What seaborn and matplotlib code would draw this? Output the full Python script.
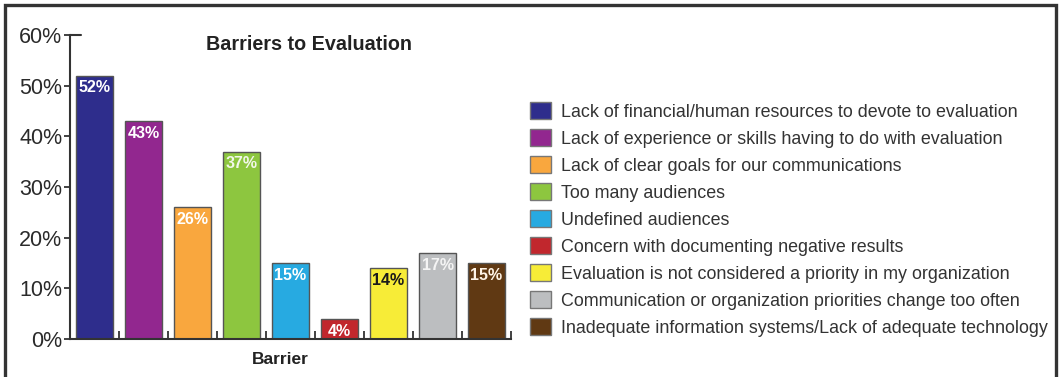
import matplotlib
matplotlib.use("Agg")
import matplotlib.pyplot as plt
from matplotlib.patches import Patch, Rectangle
from matplotlib import font_manager
import matplotlib.transforms as mtransforms
import seaborn as sns
import pandas as pd

categories = [
    "Lack of financial/human resources to devote to evaluation",
    "Lack of experience or skills having to do with evaluation",
    "Lack of clear goals for our communications",
    "Too many audiences",
    "Undefined audiences",
    "Concern with documenting negative results",
    "Evaluation is not considered a priority in my organization",
    "Communication or organization priorities change too often",
    "Inadequate information systems/Lack of adequate technology",
]
values = [52, 43, 26, 37, 15, 4, 14, 17, 15]
value_labels = ["52%", "43%", "26%", "37%", "15%", "4%", "14%", "17%", "15%"]
colors = ["#2E2D8C", "#92278F", "#F9A73E", "#8DC63F", "#27AAE1",
          "#C1272D", "#F7EC37", "#BCBEC0", "#603913"]
label_colors = ["white", "white", "white", "#F2F7EA", "white",
                "white", "#1a1a1a", "#F4F4F4", "#FFF4E6"]
ytick_vals = [0, 10, 20, 30, 40, 50, 60]
ytick_labels = ["0%", "10%", "20%", "30%", "40%", "50%", "60%"]

sns.set_style("white")
names = {f.name for f in font_manager.fontManager.ttflist}
narrow = "Liberation Sans Narrow" if "Liberation Sans Narrow" in names else "Liberation Sans"
plt.rcParams["font.family"] = ["Liberation Sans", "DejaVu Sans"]

fig = plt.figure(figsize=(10.59, 3.77), dpi=100)
ax = fig.add_axes([70 / 1059, 38 / 377, 441 / 1059, 304 / 377])

df = pd.DataFrame({"cat": categories, "val": values})
sns.barplot(data=df, x="cat", y="val", hue="cat", palette=colors,
            dodge=False, legend=False, width=0.74, ax=ax,
            edgecolor="#555555", linewidth=1.0, saturation=1)

ax.set_xlim(-0.5, len(categories) - 0.5)
ax.set_ylim(0, 60)
ax.set_yticks(ytick_vals)
ax.set_yticklabels(ytick_labels, fontsize=15.5, color="#2a2a2a", family=narrow)
ax.set_xticks([])
ax.set_xticks([i + 0.5 for i in range(len(categories))], minor=True)
ax.tick_params(axis="x", which="minor", direction="in", length=6,
               width=1.3, color="#333333", bottom=True)
ax.tick_params(axis="y", direction="out", length=4, width=1.3,
               color="#333333", left=True, pad=1.5)
ax.set_xlabel("")
ax.set_ylabel("")
for s in ["top", "right"]:
    ax.spines[s].set_visible(False)
for s in ["left", "bottom"]:
    ax.spines[s].set_color("#333333")
    ax.spines[s].set_linewidth(1.5)
# top corner tick at 60%
ax.axhline(60, xmin=0, xmax=0.025, color="#333333", lw=1.5, clip_on=False)

offset = mtransforms.offset_copy(ax.transData, fig=fig, x=0, y=-3.5, units="points")
for i, (v, lab, c) in enumerate(zip(values, value_labels, label_colors)):
    ax.text(i, v, lab, ha="center", va="top", fontsize=11.5,
            fontweight="bold", color=c, transform=offset)

fig.text(309 / 1059, 1 - 45 / 377, "Barriers to Evaluation", ha="center",
         va="center", fontsize=14.2, fontweight="bold", color="#222222")
fig.text(280 / 1059, 1 - 360 / 377, "Barrier", ha="center", va="center",
         fontsize=12.5, fontweight="bold", color="#222222", family=narrow)

handles = [Patch(facecolor=c, edgecolor="#777777", linewidth=1.0) for c in colors]
fig.legend(handles, categories, loc="upper left",
           bbox_to_anchor=(530 / 1059, 1 - 102 / 377), frameon=False,
           fontsize=12.85, handlelength=1.2, handleheight=1.1,
           handletextpad=0.55, labelspacing=0.47, borderaxespad=0,
           borderpad=0, labelcolor="#333333")

fig.patches.append(Rectangle((5 / 1059, -6 / 377), 1051 / 1059, 378 / 377,
                             transform=fig.transFigure, fill=False,
                             edgecolor="#333333", linewidth=2.4))

fig.savefig("out.png", dpi=100)
